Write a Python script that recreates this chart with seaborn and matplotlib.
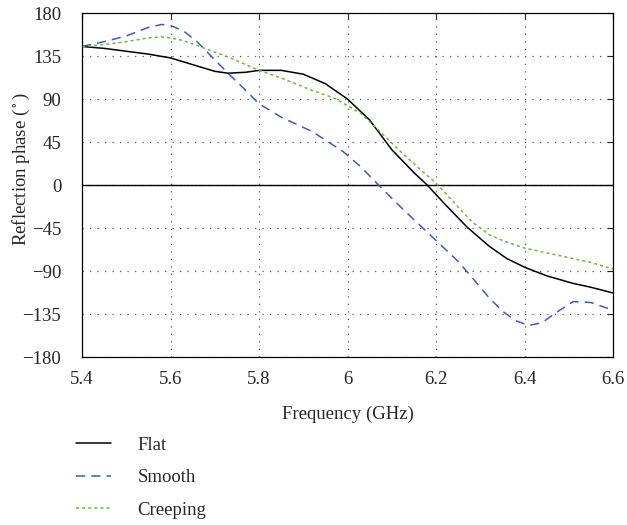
import numpy as np
import pandas as pd
import matplotlib
matplotlib.use('Agg')
import matplotlib.pyplot as plt
import seaborn as sns

# frequency samples (GHz) and reflection phase (deg)
flat_freq = [5.40, 5.45, 5.50, 5.55, 5.60, 5.65, 5.70, 5.73, 5.77, 5.80, 5.85, 5.90, 5.95, 6.00, 6.05, 6.10,
             6.15, 6.18, 6.22, 6.27, 6.32, 6.36, 6.40, 6.45, 6.51, 6.55, 6.60]
flat_phase = [145, 143, 140, 137, 133, 126, 119, 117, 118, 120, 120, 116, 106, 90, 68, 37,
              13, 0, -20, -44, -64, -77, -86, -95, -103, -107, -113]

smooth_freq = [5.40, 5.45, 5.50, 5.55, 5.58, 5.60, 5.63, 5.66, 5.70, 5.73, 5.77, 5.80, 5.85, 5.92, 5.99,
               6.03, 6.07, 6.12, 6.20, 6.25, 6.28, 6.32, 6.35, 6.38, 6.41, 6.44, 6.47, 6.51, 6.55, 6.60]
smooth_phase = [145, 150, 156, 165, 168, 167, 161, 150, 131, 117, 99, 85, 71, 56, 35,
                19, 0, -23, -58, -80, -96, -118, -132, -142, -147, -144, -134, -122, -123, -131]

creep_freq = [5.40, 5.45, 5.50, 5.55, 5.58, 5.60, 5.63, 5.66, 5.70, 5.73, 5.80, 5.85, 5.92, 5.97, 6.03,
              6.08, 6.12, 6.16, 6.20, 6.24, 6.28, 6.32, 6.35, 6.40, 6.45, 6.51, 6.55, 6.60]
creep_phase = [145, 147, 150, 154, 155, 154, 151, 146, 139, 134, 120, 112, 99, 91, 75,
               53, 35, 18, 2, -18, -38, -52, -58, -66, -71, -77, -81, -88]

series = [('Flat', flat_freq, flat_phase, 'black', '-'),
          ('Smooth', smooth_freq, smooth_phase, '#3a5ec0', (0, (6, 4))),
          ('Creeping', creep_freq, creep_phase, '#66bb3f', (0, (2, 2)))]

sns.set_style('white')
plt.rcParams['font.family'] = ['Liberation Serif', 'DejaVu Serif']
plt.rcParams['mathtext.fontset'] = 'stix'

fig = plt.figure(figsize=(6.27, 5.25), dpi=100)
ax = fig.add_axes([0.1308, 0.32, 0.8469, 0.6552])

for name, f, p, c, ls in series:
    df = pd.DataFrame({'freq': f, 'phase': p})
    sns.lineplot(data=df, x='freq', y='phase', ax=ax, color=c, linestyle=ls,
                 linewidth=1.1, label=name)

ax.axhline(0, color='black', linewidth=1.0, zorder=1)

ax.set_xlim(5.4, 6.6)
ax.set_ylim(-180, 180)
ax.set_xticks([5.4, 5.6, 5.8, 6.0, 6.2, 6.4, 6.6])
ax.set_xticklabels(['5.4', '5.6', '5.8', '6', '6.2', '6.4', '6.6'])
ax.set_yticks(np.arange(-180, 181, 45))
ax.set_yticklabels(['\u2212180', '\u2212135', '\u221290', '\u221245', '0', '45', '90', '135', '180'])
ax.grid(True, color='#555555', linestyle=(0, (1, 5)), linewidth=0.9)
ax.tick_params(direction='in', top=True, right=True, length=4, labelsize=13.5, width=0.8)
ax.tick_params(axis='x', pad=10)
ax.tick_params(axis='y', pad=15)
for s in ax.spines.values():
    s.set_color('black')
    s.set_linewidth(0.9)

ax.set_xlabel('Frequency (GHz)', fontsize=13.5, labelpad=12.5)
ax.set_ylabel('Reflection phase ($^\\circ$)', fontsize=13.5)
ax.yaxis.set_label_coords(-0.094, 0.545)

ax.legend(loc='upper left', bbox_to_anchor=(0.121, 0.168), bbox_transform=fig.transFigure,
          frameon=False, fontsize=13.5, handlelength=1.85, handletextpad=1.45,
          labelspacing=0.82, borderpad=0, borderaxespad=0)

fig.savefig('out.png', dpi=100)
